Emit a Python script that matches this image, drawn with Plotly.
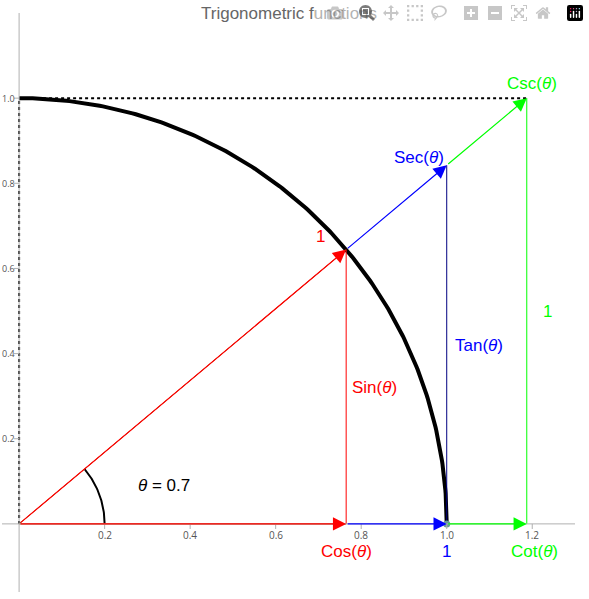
import numpy as np
import plotly.graph_objects as go

theta = 0.7
xticks = [0.2, 0.4, 0.6, 0.8, 1.0, 1.2]
xtick_labels = ["0.2", "0.4", "0.6", "0.8", "1.0", "1.2"]
yticks = [0.2, 0.4, 0.6, 0.8, 1.0]
ytick_labels = ["0.2", "0.4", "0.6", "0.8", "1.0"]

c, s = np.cos(theta), np.sin(theta)
t, sec, csc, cot = np.tan(theta), 1/np.cos(theta), 1/np.sin(theta), 1/np.tan(theta)
RED, BLUE, GREEN, DBLUE = "#ff0000", "#0000ff", "#00ff00", "#000080"

fig = go.Figure()
def line(xs, ys, color, width=1, dash=None):
    fig.add_trace(go.Scatter(x=xs, y=ys, mode="lines", line=dict(color=color, width=width, dash=dash), hoverinfo="skip"))

a = np.linspace(0, np.pi/2, 200)
line(np.cos(a), np.sin(a), "black", 4)
line([0, cot], [1, 1], "black", 2, "dot")
line([0, 0], [0, 1], "black", 2, "dot")
b = np.linspace(0, theta, 60)
line(0.2*np.cos(b), 0.2*np.sin(b), "black", 2)
line([c, c], [0, s], RED)
line([1, 1], [0, t], DBLUE)
line([cot, cot], [0, 1], GREEN)
line([0, c], [0, s], "#804000", 1)
line([0, c], [0, 0], "#804000", 1)
fig.add_trace(go.Scatter(x=[1], y=[0], mode="markers", marker=dict(color="#6a9a9a", size=7), hoverinfo="skip"))

def arrow(x0, y0, x1, y1, color):
    fig.add_annotation(x=x1, y=y1, ax=x0, ay=y0, xref="x", yref="y", axref="x", ayref="y",
                       showarrow=True, arrowhead=2, arrowsize=2.2, arrowwidth=1.2, arrowcolor=color, text="")
arrow(0, 0, c, s, RED)
arrow(0, 0, c, 0, RED)
arrow(c, 0, 1, 0, BLUE)
arrow(c, s, 1, t, BLUE)
arrow(1, 0, cot, 0, GREEN)
arrow(1, t, cot, 1, GREEN)

def label(x, y, txt, color):
    fig.add_annotation(x=x, y=y, text=txt, showarrow=False, font=dict(color=color, size=17, family="Liberation Sans"))
label(c, -0.065, "Cos(<i>θ</i>)", RED)
label(0.705, 0.675, "1", RED)
label(0.83, 0.32, "Sin(<i>θ</i>)", RED)
label(1.075, 0.42, "Tan(<i>θ</i>)", BLUE)
label(0.935, 0.86, "Sec(<i>θ</i>)", BLUE)
label(1.2, 1.035, "Csc(<i>θ</i>)", GREEN)
label(1.235, 0.5, "1", GREEN)
label(1.205, -0.065, "Cot(<i>θ</i>)", GREEN)
label(1.0, -0.065, "1", BLUE)
label(0.34, 0.09, "<i>θ</i> = 0.7", "black")

# axes
fig.add_shape(type="line", x0=-0.04, x1=1.3, y0=0, y1=0, line=dict(color="#b0b0b0", width=1))
fig.add_shape(type="line", x0=0, x1=0, y0=-0.16, y1=1.2, line=dict(color="#b0b0b0", width=1))
for xv, tl in zip(xticks, xtick_labels):
    fig.add_shape(type="line", x0=xv, x1=xv, y0=0, y1=-0.012, line=dict(color="#b0b0b0", width=1))
    fig.add_annotation(x=xv, y=-0.025, text=tl, showarrow=False, font=dict(size=10, color="#555"))
for yv, tl in zip(yticks, ytick_labels):
    fig.add_shape(type="line", x0=0, x1=-0.012, y0=yv, y1=yv, line=dict(color="#b0b0b0", width=1))
    fig.add_annotation(x=-0.004, y=yv, text=tl, showarrow=False, xanchor="right", font=dict(size=9, color="#555"))

fig.add_annotation(x=0.5, y=1.0, xref="paper", yref="paper", yanchor="middle", text="Trigonometric functions",
                   showarrow=False, font=dict(size=17, color="#666", family="Liberation Sans"))
fig.update_layout(width=589, height=599, showlegend=False, plot_bgcolor="white", paper_bgcolor="white",
                  margin=dict(l=2, r=14, t=13, b=7),
                  xaxis=dict(range=[-0.04, 1.3], visible=False),
                  yaxis=dict(range=[-0.16, 1.2], visible=False))
fig.write_html("out.html", post_script="document.body.style.margin='0';")
